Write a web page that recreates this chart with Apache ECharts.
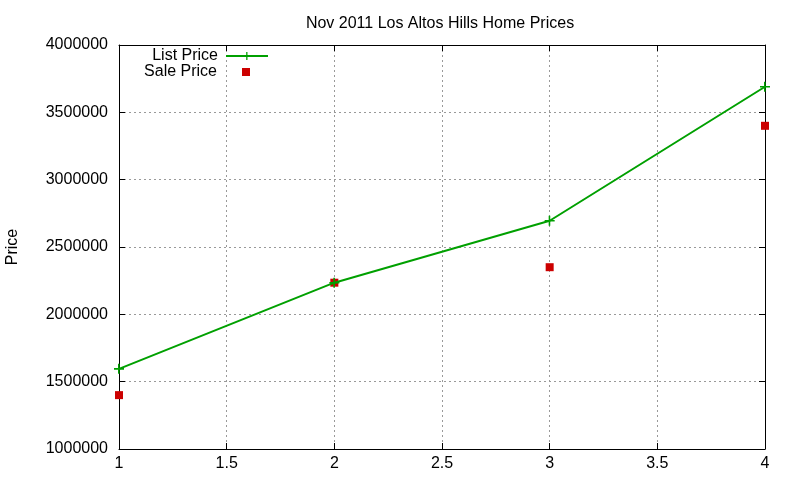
<!DOCTYPE html>
<html>
<head>
    <meta charset="utf-8">
    <title>Nov 2011 Los Altos Hills Home Prices</title>
    <script type="text/javascript" src="https://cdn.jsdelivr.net/npm/echarts@6/dist/echarts.min.js"></script>
</head>
<style type="text/css">
    html, body { margin: 0; padding: 0; background: #fff; }
    #main { width: 800px; height: 480px; }
</style>
<body>
    <div id="main"></div>
    <script type="text/javascript">
        var xValues = [1, 2, 3, 4];
        var listPrice = [1595000, 2235000, 2695000, 3690000];
        var salePrice = [1400000, 2235000, 2350000, 3400000];

        var font = 'Liberation Sans, Arial, sans-serif';
        var plus = 'path://M4,0h1.6v4.2h4.4v1.6h-4.4v4.2h-1.6v-4.2h-4v-1.6h4z';

        function pairs(vals) {
            return xValues.map(function (x, i) { return [x, vals[i]]; });
        }

        var chart = echarts.init(document.getElementById('main'));

        var gridLine = { show: true, lineStyle: { color: '#999', type: [2, 3], width: 1 } };
        var axisLine = { show: true, onZero: false, lineStyle: { color: '#000', width: 1 } };
        var ticks = { show: true, inside: true, length: 6, lineStyle: { color: '#000' } };

        var option = {
            animation: false,
            backgroundColor: '#fff',
            title: {
                text: 'Nov 2011 Los Altos Hills Home Prices',
                left: 435, top: 11, textAlign: 'center',
                textStyle: { fontFamily: font, fontSize: 16, fontWeight: 'normal', color: '#000' }
            },
            legend: [{
                data: ['List Price'], right: 526, top: 43, align: 'right',
                itemWidth: 42, itemHeight: 10, itemGap: 0,
                textStyle: { fontFamily: font, fontSize: 16, color: '#000', padding: [0, 3, 0, 0] }
            }, {
                data: ['Sale Price'], right: 545, top: 59, align: 'right',
                itemWidth: 8, itemHeight: 8, itemGap: 0,
                textStyle: { fontFamily: font, fontSize: 16, color: '#000', padding: [0, 20, 0, 0] }
            }],
            grid: { left: 119, right: 35, top: 45, bottom: 31, outerBoundsMode: 'none' },
            xAxis: [{
                type: 'value', min: 1, max: 4, interval: 0.5,
                axisLine: axisLine, axisTick: ticks, splitLine: gridLine,
                axisLabel: { color: '#000', fontFamily: font, fontSize: 16, margin: 7 }
            }, {
                type: 'value', position: 'top', min: 1, max: 4, interval: 0.5,
                axisLine: axisLine, axisTick: ticks, splitLine: { show: false },
                axisLabel: { show: false }
            }],
            yAxis: [{
                type: 'value', min: 1000000, max: 4000000, interval: 500000,
                name: 'Price', nameLocation: 'middle', nameGap: 98, nameRotate: 90,
                nameTextStyle: { fontFamily: font, fontSize: 16, color: '#000' },
                axisLine: axisLine, axisTick: ticks, splitLine: gridLine,
                axisLabel: {
                    color: '#000', fontFamily: font, fontSize: 16, margin: 11,
                    formatter: function (v) { return String(v); }
                }
            }, {
                type: 'value', position: 'right', min: 1000000, max: 4000000, interval: 500000,
                axisLine: axisLine, axisTick: ticks, splitLine: { show: false },
                axisLabel: { show: false }
            }],
            series: [{
                name: 'List Price',
                type: 'line',
                data: pairs(listPrice),
                symbol: plus, symbolSize: 10,
                itemStyle: { color: '#00a000' },
                lineStyle: { color: '#00a000', width: 2 }
            }, {
                name: 'Sale Price',
                type: 'scatter',
                data: pairs(salePrice),
                symbol: 'rect', symbolSize: 8,
                itemStyle: { color: '#cc0000', opacity: 1 }
            }]
        };
        chart.setOption(option);
    </script>
</body>
</html>
